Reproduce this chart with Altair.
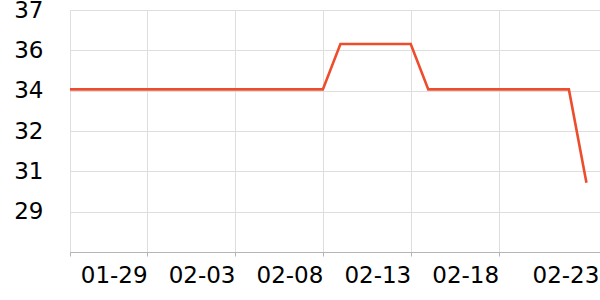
import altair as alt
import pandas as pd

# Data
dates = (["2024-01-24T14:40:00Z"]
         + [f"2024-01-{d:02d}T00:00:00Z" for d in range(25, 32)]
         + [f"2024-02-{d:02d}T00:00:00Z" for d in range(1, 24)])
values = [34.05] * 16 + [35.85] * 5 + [34.05] * 9 + [30.35]

y_ticks = [27.6, 29.2, 30.8, 32.4, 34.0, 35.6, 37.2]

df = pd.DataFrame({"date": dates, "value": values})

x_values = [
    alt.DateTime(year=2024, month=1, date=24, hours=14, minutes=40, utc=True),
    alt.DateTime(year=2024, month=1, date=29, utc=True),
    alt.DateTime(year=2024, month=2, date=3, utc=True),
    alt.DateTime(year=2024, month=2, date=8, utc=True),
    alt.DateTime(year=2024, month=2, date=13, utc=True),
    alt.DateTime(year=2024, month=2, date=18, utc=True),
    alt.DateTime(year=2024, month=2, date=23, hours=17, utc=True),
]

FONT = "DejaVu Sans"

chart = alt.Chart(df).mark_line(color="#ee4d2d", strokeWidth=2.6, clip=True).encode(
    x=alt.X(
        "date:T",
        scale=alt.Scale(
            type="utc",
            domain=[
                alt.DateTime(year=2024, month=1, date=24, hours=14, minutes=40, utc=True),
                alt.DateTime(year=2024, month=2, date=23, hours=18, minutes=30, utc=True),
            ],
        ),
        axis=alt.Axis(
            values=x_values,
            title=None,
            labelExpr="datum.value < utc(2024, 0, 25) ? '' : utcFormat(datum.value, '%m-%d')",
            labelAlign="right",
            labelBaseline="top",
            labelFont=FONT,
            labelFontSize=23,
            labelColor="#000000",
            labelPadding=8,
            labelFlush=False,
            labelOverlap=False,
            tickSize=4,
            tickColor="#b5b5b5",
            tickOpacity={"condition": {"test": "datum.value > utc(2024, 1, 20)", "value": 0}, "value": 1},
            domainColor="#b5b5b5",
            grid=True,
            gridColor="#dedede",
            gridOpacity={"condition": {"test": "datum.value > utc(2024, 1, 20)", "value": 0}, "value": 1},
        ),
    ),
    y=alt.Y(
        "value:Q",
        scale=alt.Scale(domain=[27.6, 37.2], nice=False, zero=False),
        axis=alt.Axis(
            values=y_ticks,
            format=".0f",
            labelExpr="datum.value < 28 ? '' : datum.label",
            title=None,
            domain=False,
            ticks=False,
            labelFont=FONT,
            labelFontSize=23,
            labelColor="#000000",
            labelPadding=27,
            labelBaseline="middle",
            grid=True,
            gridColor="#dedede",
        ),
    ),
).properties(
    width=530,
    height=242,
    autosize=alt.AutoSizeParams(type="none"),
    padding={"left": 70, "top": 10, "right": 0, "bottom": 48},
).configure_view(stroke=None).configure(background="white")

chart.save("out.html", embed_options={"renderer": "svg", "actions": False})
